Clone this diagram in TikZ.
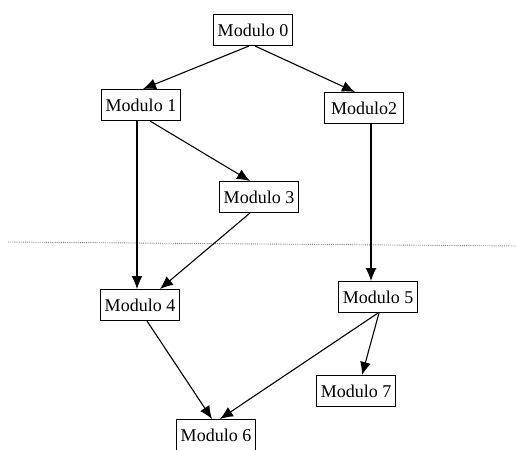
\documentclass[tikz,border=0pt]{standalone}
\usepackage{fontspec}
\setmainfont{Liberation Serif}
\usetikzlibrary{arrows.meta}

\begin{document}
\begin{tikzpicture}[
        x=1pt, y=-1pt,
        modulo/.style={draw, line width=1pt, inner sep=1pt, minimum width=79pt, minimum height=31pt, font=\fontsize{18}{20}\selectfont},
        flecha/.style={-{Latex[length=13pt, width=11pt]}, line width=1.1pt},
        corte/.style={densely dotted, gray, line width=0.9pt}
    ]
        \useasboundingbox (0,0) rectangle (517,450);

        \node[modulo] (m0) at (253,30) {Modulo 0};
        \node[modulo] (m1) at (141,105) {Modulo 1};
        \node[modulo] (m2) at (364,108) {Modulo2};
        \node[modulo] (m3) at (259,197) {Modulo 3};
        \node[modulo] (m4) at (140,305) {Modulo 4};
        \node[modulo] (m5) at (378,297) {Modulo 5};
        \node[modulo] (m7) at (356,391) {Modulo 7};
        \node[modulo] (m6) at (216,435) {Modulo 6};

        \coordinate (corte-izq) at (8,242);
        \coordinate (corte-der) at (517,246);
        \draw[corte] (corte-izq) -- (corte-der);

        \draw[flecha] ([xshift=-4pt]m0.south) -- ([xshift=2pt]m1.north);
        \draw[flecha] ([xshift=2pt]m0.south) -- ([xshift=-9pt]m2.north);
        \draw[flecha] ([xshift=9pt]m1.south) -- ([xshift=-9pt]m3.north);
        \draw[flecha] ([xshift=-4pt]m1.south) -- ([xshift=-3pt]m4.north);
        \draw[flecha] ([xshift=-9pt]m3.south) -- ([xshift=20pt]m4.north);
        \draw[flecha] ([xshift=7pt]m2.south) -- ([xshift=-7pt]m5.north);
        \draw[flecha] ([xshift=7pt]m4.south) -- ([xshift=-4pt]m6.north);
        \draw[flecha] (m5.south) -- ([xshift=4pt]m6.north);
        \draw[flecha] ([xshift=1pt]m5.south) -- ([xshift=6pt]m7.north);
    \end{tikzpicture}
\end{document}
